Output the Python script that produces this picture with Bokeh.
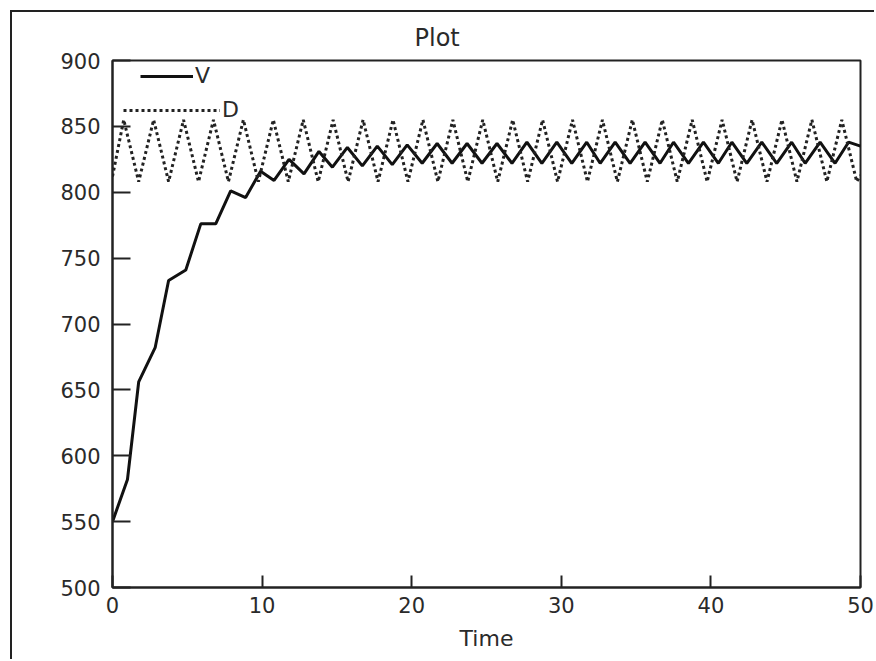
from bokeh.plotting import figure
from bokeh.models import Range1d, FixedTicker, Legend, LegendItem
from bokeh.embed import file_html
from bokeh.resources import INLINE

# ---- data ----
V_t = [0, 1.0, 1.75, 2.85, 3.75, 4.9, 5.9, 6.9, 7.9, 8.9, 9.9,
       10.8, 11.8, 12.8, 13.8, 14.7, 15.7, 16.7, 17.7, 18.7, 19.7,
       20.7, 21.7, 22.7, 23.7, 24.7, 25.7, 26.7, 27.7, 28.7, 29.7,
       30.7, 31.7, 32.6, 33.6, 34.6, 35.6, 36.6, 37.5, 38.5, 39.5,
       40.5, 41.4, 42.4, 43.4, 44.4, 45.4, 46.3, 47.3, 48.3, 49.2,
       50]
V_v = [550, 582, 656, 682, 733, 741, 776, 776, 801, 796, 816,
       809, 825, 814, 831, 819, 834, 820, 835, 821, 836,
       822, 837, 822, 837, 822, 837, 822, 838, 822, 838,
       822, 838, 822, 838, 822, 838, 822, 838, 822, 838,
       822, 838, 822, 838, 822, 838, 822, 838, 822, 838,
       835]

D_t = [0, 0.75, 1.75, 2.75, 3.75, 4.75, 5.75, 6.75, 7.75, 8.75, 9.75,
       10.75, 11.75, 12.75, 13.75, 14.75, 15.75, 16.75, 17.75, 18.75, 19.75,
       20.75, 21.75, 22.75, 23.75, 24.75, 25.75, 26.75, 27.75, 28.75, 29.75,
       30.75, 31.75, 32.75, 33.75, 34.75, 35.75, 36.75, 37.75, 38.75, 39.75,
       40.75, 41.75, 42.75, 43.75, 44.75, 45.75, 46.75, 47.75, 48.75, 49.75,
       50]
D_v = [812, 855, 808, 855, 808, 855, 808, 855, 808, 855, 808,
       855, 808, 855, 808, 855, 808, 855, 808, 855, 808,
       855, 808, 855, 808, 855, 808, 855, 808, 855, 808,
       855, 808, 855, 808, 855, 808, 855, 808, 855, 808,
       855, 808, 855, 808, 855, 808, 855, 808, 855, 808,
       813]

x_ticks = [0, 10, 20, 30, 40, 50]
y_ticks = [500, 550, 600, 650, 700, 750, 800, 850, 900]

FONT = "DejaVu Sans"
TXT = "#2a2a2a"

p = figure(width=864, height=649, output_backend="svg", toolbar_location=None,
           x_range=Range1d(0, 50), y_range=Range1d(500, 900),
           min_border_left=100, min_border_right=16,
           min_border_top=48, min_border_bottom=74)
p.styles = {"margin-left": "10px", "margin-top": "10px",
            "border-left": "2px solid #222", "border-top": "2px solid #222"}

p.title.text = "Plot"
p.title.align = "left"
p.title.offset = 302
p.title.text_font = FONT
p.title.text_font_size = "24px"
p.title.text_font_style = "normal"
p.title.text_color = TXT
p.title.standoff = 18

p.grid.visible = False
p.outline_line_color = "#222222"
p.outline_line_width = 2
p.outline_line_alpha = 1

for ax in (p.xaxis[0], p.yaxis[0]):
    ax.axis_line_width = 2
    ax.axis_line_color = "#222222"
    ax.major_tick_line_width = 2
    ax.major_tick_line_color = "#222222"
    ax.major_tick_out = 0
    ax.minor_tick_line_color = None
    ax.major_label_text_font = FONT
    ax.major_label_text_font_size = "21px"
    ax.major_label_text_color = TXT

p.xaxis.ticker = FixedTicker(ticks=x_ticks)
p.yaxis.ticker = FixedTicker(ticks=y_ticks)
p.xaxis.major_tick_in = 12
p.yaxis.major_tick_in = 18
p.xaxis.major_label_standoff = 9
p.yaxis.major_label_standoff = 12
p.xaxis.axis_label = "Time"
p.xaxis.axis_label_text_font = FONT
p.xaxis.axis_label_text_font_size = "22px"
p.xaxis.axis_label_text_font_style = "normal"
p.xaxis.axis_label_text_color = TXT
p.xaxis.axis_label_standoff = 10

rv = p.line(V_t, V_v, line_width=3, line_color="#111111")
rd = p.line(D_t, D_v, line_width=3, line_color="#222222", line_dash="3 3")


def make_legend(label, r, loc, gw):
    return Legend(items=[LegendItem(label=label, renderers=[r])], location=loc,
                  glyph_width=gw, glyph_height=20, label_standoff=2,
                  padding=0, margin=0, spacing=0, border_line_color=None,
                  background_fill_alpha=0, label_height=20,
                  label_text_font=FONT, label_text_font_size="22px",
                  label_text_color=TXT)


p.add_layout(make_legend("V", rv, (28, 499), 53))
p.add_layout(make_legend("D", rd, (11, 465), 97))

open("out.html", "w").write(file_html(p, INLINE))
